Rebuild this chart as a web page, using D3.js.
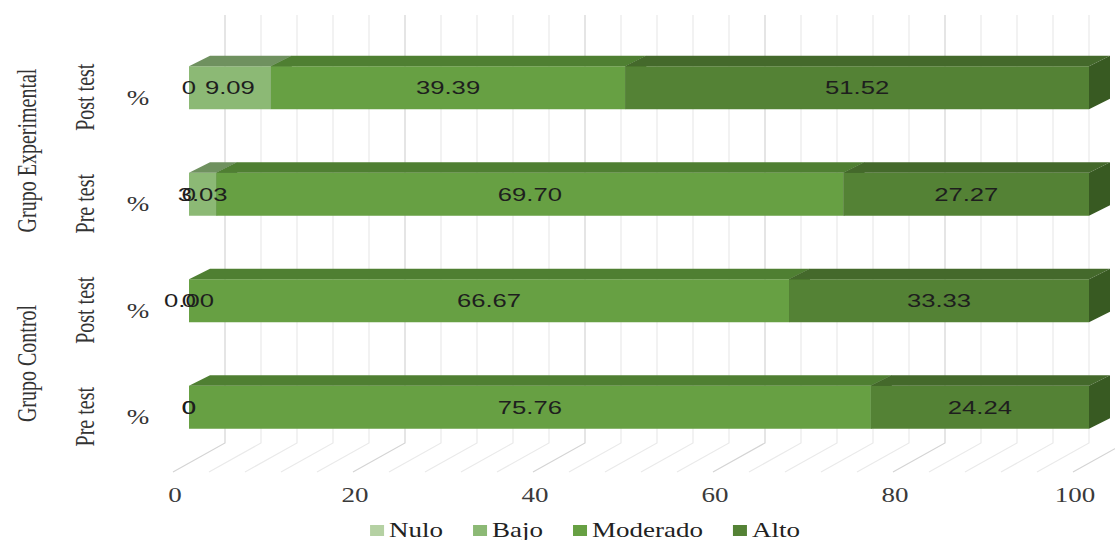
<!DOCTYPE html>
<html>
<head>
<meta charset="utf-8">
<script src="https://cdn.jsdelivr.net/npm/d3@7"></script>
<style>
  body { margin: 0; background: #ffffff; }
  svg { display: block; }
</style>
</head>
<body>
<svg id="chart" width="1115" height="540"></svg>
<script>
// ---- data -------------------------------------------------------------
const groups   = ["Grupo Experimental", "Grupo Control"];
const rowGroup = [0, 0, 1, 1];
const phases   = ["Post test", "Pre test", "Post test", "Pre test"];
const units    = ["%", "%", "%", "%"];
const seriesNames = ["Nulo", "Bajo", "Moderado", "Alto"];
// values kept as their printed strings so each label reads exactly its value
const nulo     = ["0", "0", "0", "0"];
const bajo     = ["9.09", "3.03", "0.00", "0"];
const moderado = ["39.39", "69.70", "66.67", "75.76"];
const alto     = ["51.52", "27.27", "33.33", "24.24"];
const xTicks   = [0, 20, 40, 60, 80, 100];
const gridStep = 4;

// ---- styling ----------------------------------------------------------
const frontCol = ["#b5d1a3", "#8cb975", "#67a043", "#548235"];
const topCol   = ["#93ad86", "#6f915f", "#4f7f32", "#44692b"];
const sideCol  = ["#7d9772", "#5e7f50", "#41682a", "#385a22"];
const SX = 1.35;                       // horizontal text stretch
const serif = "'Liberation Serif', 'Times New Roman', serif";
const sans  = "'Liberation Sans', Arial, sans-serif";

const svg = d3.select("#chart");

// ---- scales / 3D geometry --------------------------------------------
const x = d3.scaleLinear().domain([0, 100]).range([173, 1073]);
const y = d3.scalePoint().domain(d3.range(phases.length)).range([44, 470]).padding(0.5);
const floorY = 472;
const floorD = [52, -29];      // floor depth vector
const barOff = [16, -9.5];     // front face of bars inside the floor depth
const barD   = [21, -10.5];    // bar depth
const barH   = 43;
const wallTop = 15;

// ---- floor & back wall grid ------------------------------------------
const gridVals = d3.range(0, 100 + 1e-9, gridStep);
const grid = svg.append("g").attr("fill", "none");
gridVals.forEach(v => {
  const major = v % 20 === 0;
  const col = major ? "#d4d4d4" : "#eaeaea";
  const x0 = x(v), xb = x(v) + floorD[0], yb = floorY + floorD[1];
  grid.append("path")
    .attr("d", `M${x0},${floorY}L${xb},${yb}L${xb},${wallTop}`)
    .attr("stroke", col).attr("stroke-width", 1.2);
});

// ---- stacked 3D bars -------------------------------------------------
const rows = phases.map((p, i) => ({
  Nulo: +nulo[i], Bajo: +bajo[i], Moderado: +moderado[i], Alto: +alto[i]
}));
const labelText = [nulo, bajo, moderado, alto];
const stack = d3.stack().keys(seriesNames)(rows);

const bars = svg.append("g");
rows.forEach((r, i) => {
  const yTop = y(i) + barOff[1] - barH / 2;
  const yBot = yTop + barH;
  stack.forEach((s, k) => {
    const d = s[i];
    if (d[1] - d[0] <= 0) return;
    const xa = x(d[0]) + barOff[0], xb = x(d[1]) + barOff[0];
    // front face
    bars.append("rect")
      .attr("x", xa).attr("y", yTop)
      .attr("width", xb - xa).attr("height", barH)
      .attr("fill", frontCol[k]);
    // top face
    bars.append("path")
      .attr("d", `M${xa},${yTop}L${xa + barD[0]},${yTop + barD[1]}L${xb + barD[0]},${yTop + barD[1]}L${xb},${yTop}Z`)
      .attr("fill", topCol[k]);
    // right side face
    bars.append("path")
      .attr("d", `M${xb},${yTop}L${xb + barD[0]},${yTop + barD[1]}L${xb + barD[0]},${yBot + barD[1]}L${xb},${yBot}Z`)
      .attr("fill", sideCol[k]);
  });
});

// ---- data labels ------------------------------------------------------
const labels = svg.append("g")
  .attr("font-family", sans).attr("font-size", 19).attr("fill", "#1e1e1e")
  .attr("text-anchor", "middle").attr("dominant-baseline", "central");
rows.forEach((r, i) => {
  stack.forEach((s, k) => {
    const d = s[i];
    const cx = (x(d[0]) + x(d[1])) / 2 + barOff[0];
    const cy = y(i) + barOff[1];
    labels.append("text")
      .attr("transform", `translate(${cx},${cy}) scale(${SX},1)`)
      .text(labelText[k][i]);
  });
});

// ---- value axis labels -----------------------------------------------
svg.append("g")
  .attr("font-family", serif).attr("font-size", 20).attr("fill", "#3a3a3a")
  .attr("text-anchor", "middle")
  .selectAll("text").data(xTicks).join("text")
  .attr("transform", v => `translate(${x(v) + 2},502) scale(${SX},1)`)
  .text(v => v);

// ---- category labels (multi-level) -----------------------------------
const cat = svg.append("g")
  .attr("font-family", serif).attr("font-size", 20).attr("fill", "#333")
  .attr("text-anchor", "middle").attr("dominant-baseline", "central");
phases.forEach((p, i) => {
  cat.append("text")
    .attr("transform", `translate(138,${y(i) + 1}) scale(${SX},1)`)
    .text(units[i]);
  cat.append("text")
    .attr("transform", `translate(85,${y(i)}) scale(${SX},1) rotate(-90)`)
    .text(p);
});
groups.forEach((g, gi) => {
  const idx = d3.range(phases.length).filter(i => rowGroup[i] === gi);
  const cy = d3.mean(idx, i => y(i));
  cat.append("text")
    .attr("transform", `translate(27,${cy}) scale(${SX},1) rotate(-90)`)
    .text(g);
});

// ---- legend -----------------------------------------------------------
const legend = svg.append("g")
  .attr("font-family", serif).attr("font-size", 20).attr("fill", "#222");
const mW = 14, mH = 11, mGap = 5, itemGap = 30;
let lx = 0;
const items = seriesNames.map((n, k) => {
  const g = legend.append("g");
  g.append("rect").attr("x", 0).attr("y", -mH - 1).attr("width", mW).attr("height", mH)
    .attr("fill", frontCol[k]);
  const t = g.append("text").attr("transform", `translate(${mW + mGap},0) scale(${SX},1)`).text(n);
  const w = mW + mGap + t.node().getComputedTextLength() * SX;
  g.attr("data-x", lx);
  const item = { g, x: lx, w };
  lx += w + itemGap;
  return item;
});
const totalW = lx - itemGap;
const legendLeft = 585 - totalW / 2;
items.forEach(it => it.g.attr("transform", `translate(${legendLeft + it.x},537)`));
</script>
</body>
</html>
